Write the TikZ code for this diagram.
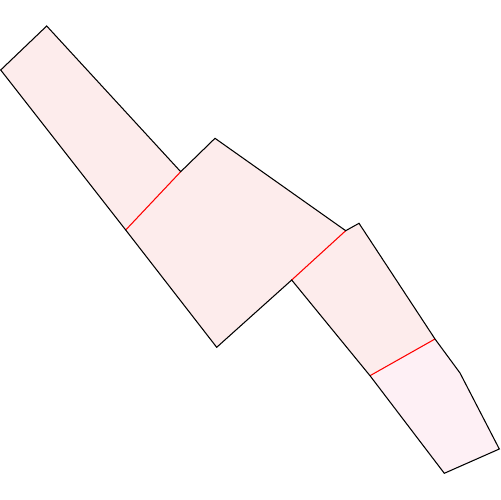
\documentclass[tikz,border=0pt]{standalone}
\begin{document}
\begin{tikzpicture}[x=0.02cm,y=-0.02cm,
  outline/.style={draw=black,line width=0.6pt,line join=miter},
  seam/.style={draw=red,line width=0.6pt},
  fillA/.style={fill={rgb,255:red,253;green,236;blue,236}},
  fillD/.style={fill={rgb,255:red,254;green,240;blue,245}}]
\useasboundingbox (0,0) rectangle (500,500);
\coordinate (p1) at (0.7,70);
\coordinate (p2) at (46.7,26);
\coordinate (p3) at (180.7,171.7);
\coordinate (p4) at (215,138.3);
\coordinate (p5) at (345.7,230.7);
\coordinate (p6) at (359,223.3);
\coordinate (p7) at (435,339);
\coordinate (p8) at (460,373);
\coordinate (p9) at (499.3,449);
\coordinate (p10) at (444.3,473.3);
\coordinate (p11) at (370,375.7);
\coordinate (p12) at (291.7,280);
\coordinate (p13) at (216.7,347.3);
\coordinate (p14) at (125.7,230);
% pieces
\fill[fillA] (p1) -- (p2) -- (p3) -- (p14) -- cycle;
\fill[fillA] (p14) -- (p3) -- (p4) -- (p5) -- (p12) -- (p13) -- cycle;
\fill[fillA] (p12) -- (p5) -- (p6) -- (p7) -- (p11) -- cycle;
\fill[fillD] (p11) -- (p7) -- (p8) -- (p9) -- (p10) -- cycle;
% seams
\draw[seam] (p14) -- (p3);
\draw[seam] (p12) -- (p5);
\draw[seam] (p11) -- (p7);
% outline
\draw[outline] (p1) -- (p2) -- (p3) -- (p4) -- (p5) -- (p6) -- (p7) -- (p8) -- (p9) -- (p10) -- (p11) -- (p12) -- (p13) -- (p14) -- cycle;
\end{tikzpicture}
\end{document}
